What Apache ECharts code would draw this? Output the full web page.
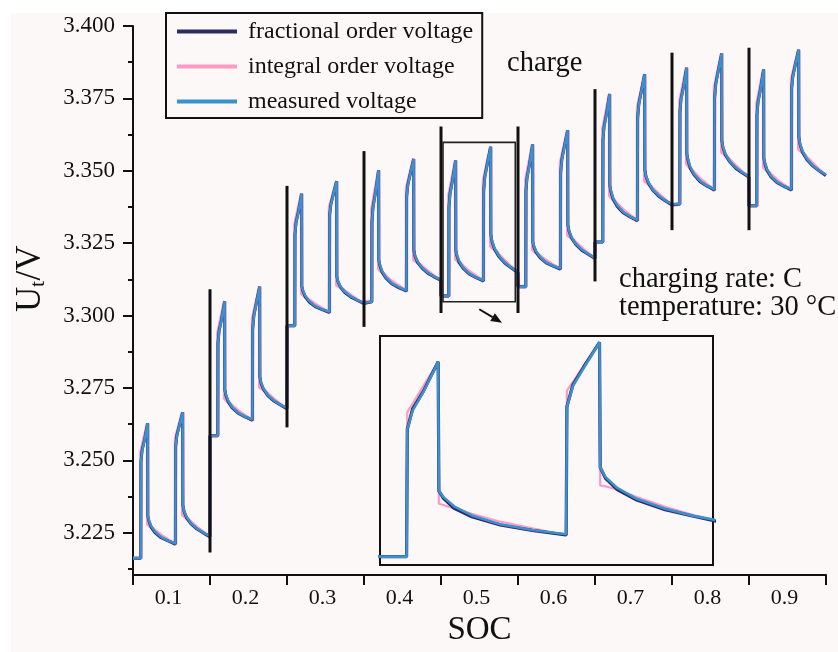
<!DOCTYPE html>
<html>
<head>
<meta charset="utf-8">
<script src="https://cdn.jsdelivr.net/npm/echarts@6/dist/echarts.min.js"></script>
<style>
  html, body { margin: 0; padding: 0; background: #ffffff; }
  #wrap { position: relative; width: 838px; height: 652px; }
  #paper { position: absolute; left: 11px; top: 13px; right: 0; bottom: 0; background: #fcf8f8; }
  #chart { position: absolute; left: 0; top: 0; width: 838px; height: 652px; }
</style>
</head>
<body>
<div id="wrap"><div id="paper"></div><div id="chart"></div></div>
<script>
// ---- data -------------------------------------------------------------
// SOC tick labels (one per charging segment)
const socLabels = ['0.1', '0.2', '0.3', '0.4', '0.5', '0.6', '0.7', '0.8', '0.9'];
// start SOC of every segment and the SOC offsets sampled within a segment
const segmentStart = [0.05, 0.15, 0.25, 0.35, 0.45, 0.55, 0.65, 0.75, 0.85];
const pulseOffset = [0, 0.0101, 0.0103, 0.0118, 0.0148, 0.0190, 0.0192, 0.0205, 0.0235, 0.0285,
  0.0365, 0.0455, 0.0551, 0.0553, 0.0570, 0.0600, 0.0645, 0.0647, 0.0662, 0.0695, 0.0750,
  0.0830, 0.0910, 0.0998];

// terminal voltage (V), one row per segment, one value per offset
const measured = [
  [3.2162,3.2162,3.2495,3.2532,3.2568,3.2628,3.2308,3.2295,3.2274,3.2254,3.2235,3.2223,3.2213,3.2546,3.2584,3.2618,3.2666,3.2346,3.2327,3.2305,3.2284,3.2265,3.2251,3.2239],
  [3.2585,3.2585,3.2903,3.2944,3.2984,3.3050,3.2744,3.2730,3.2707,3.2685,3.2665,3.2651,3.2641,3.2950,3.2998,3.3040,3.3100,3.2789,3.2770,3.2748,3.2726,3.2707,3.2693,3.2681],
  [3.2965,3.2965,3.3280,3.3319,3.3358,3.3421,3.3101,3.3089,3.3069,3.3051,3.3033,3.3022,3.3013,3.3345,3.3383,3.3416,3.3464,3.3135,3.3119,3.3100,3.3082,3.3066,3.3054,3.3044],
  [3.3048,3.3048,3.3322,3.3372,3.3421,3.3502,3.3192,3.3177,3.3154,3.3132,3.3111,3.3098,3.3087,3.3408,3.3451,3.3488,3.3541,3.3226,3.3208,3.3187,3.3167,3.3148,3.3135,3.3124],
  [3.3068,3.3068,3.3374,3.3419,3.3463,3.3536,3.3226,3.3211,3.3189,3.3167,3.3146,3.3132,3.3122,3.3428,3.3478,3.3521,3.3583,3.3282,3.3259,3.3233,3.3207,3.3183,3.3166,3.3152],
  [3.3100,3.3100,3.3430,3.3475,3.3519,3.3591,3.3255,3.3242,3.3222,3.3203,3.3184,3.3172,3.3163,3.3490,3.3538,3.3580,3.3640,3.3315,3.3294,3.3271,3.3248,3.3228,3.3213,3.3200],
  [3.3254,3.3254,3.3605,3.3650,3.3693,3.3765,3.3450,3.3433,3.3407,3.3382,3.3358,3.3342,3.3330,3.3680,3.3729,3.3772,3.3833,3.3505,3.3483,3.3459,3.3435,3.3414,3.3398,3.3385],
  [3.3385,3.3385,3.3703,3.3746,3.3787,3.3856,3.3560,3.3543,3.3515,3.3489,3.3465,3.3448,3.3436,3.3750,3.3800,3.3843,3.3905,3.3605,3.3583,3.3558,3.3533,3.3511,3.3495,3.3481],
  [3.3379,3.3379,3.3691,3.3736,3.3778,3.3850,3.3544,3.3529,3.3505,3.3482,3.3461,3.3447,3.3436,3.3782,3.3826,3.3864,3.3918,3.3618,3.3594,3.3568,3.3542,3.3518,3.3501,3.3487]
];
const integral = [
  [3.2162,3.2162,3.2528,3.2546,3.2580,3.2628,3.2280,3.2277,3.2270,3.2258,3.2241,3.2225,3.2210,3.2576,3.2593,3.2622,3.2666,3.2311,3.2309,3.2302,3.2287,3.2269,3.2252,3.2236],
  [3.2585,3.2585,3.2940,3.2959,3.2997,3.3050,3.2713,3.2710,3.2703,3.2689,3.2671,3.2654,3.2638,3.2988,3.3009,3.3045,3.3100,3.2753,3.2751,3.2745,3.2730,3.2711,3.2694,3.2678],
  [3.2965,3.2965,3.3315,3.3334,3.3370,3.3421,3.3075,3.3072,3.3066,3.3054,3.3039,3.3024,3.3010,3.3375,3.3391,3.3420,3.3464,3.3105,3.3103,3.3098,3.3085,3.3069,3.3055,3.3041],
  [3.3048,3.3048,3.3367,3.3390,3.3437,3.3502,3.3161,3.3157,3.3150,3.3136,3.3117,3.3101,3.3084,3.3441,3.3460,3.3492,3.3541,3.3192,3.3190,3.3184,3.3170,3.3153,3.3136,3.3121],
  [3.3068,3.3068,3.3415,3.3436,3.3478,3.3536,3.3195,3.3192,3.3184,3.3171,3.3152,3.3136,3.3119,3.3467,3.3488,3.3526,3.3583,3.3239,3.3237,3.3229,3.3211,3.3188,3.3168,3.3148],
  [3.3100,3.3100,3.3470,3.3491,3.3533,3.3591,3.3227,3.3225,3.3218,3.3206,3.3190,3.3175,3.3160,3.3528,3.3549,3.3585,3.3640,3.3277,3.3275,3.3268,3.3252,3.3232,3.3214,3.3197],
  [3.3254,3.3254,3.3645,3.3666,3.3707,3.3765,3.3414,3.3410,3.3402,3.3386,3.3365,3.3346,3.3326,3.3718,3.3740,3.3776,3.3833,3.3465,3.3463,3.3456,3.3439,3.3419,3.3399,3.3381],
  [3.3385,3.3385,3.3741,3.3761,3.3801,3.3856,3.3523,3.3519,3.3510,3.3494,3.3472,3.3452,3.3432,3.3789,3.3810,3.3848,3.3905,3.3564,3.3562,3.3554,3.3537,3.3516,3.3496,3.3477],
  [3.3379,3.3379,3.3731,3.3751,3.3793,3.3850,3.3512,3.3508,3.3501,3.3487,3.3467,3.3450,3.3433,3.3816,3.3835,3.3868,3.3918,3.3575,3.3572,3.3564,3.3546,3.3524,3.3503,3.3483]
];
const fractional = [
  [3.2162,3.2162,3.2495,3.2535,3.2569,3.2628,3.2308,3.2292,3.2270,3.2251,3.2233,3.2222,3.2211,3.2546,3.2587,3.2619,3.2666,3.2346,3.2325,3.2302,3.2282,3.2263,3.2250,3.2237],
  [3.2585,3.2585,3.2903,3.2947,3.2985,3.3050,3.2744,3.2726,3.2703,3.2682,3.2663,3.2650,3.2639,3.2950,3.3001,3.3042,3.3100,3.2789,3.2767,3.2745,3.2724,3.2705,3.2692,3.2679],
  [3.2965,3.2965,3.3280,3.3322,3.3359,3.3421,3.3101,3.3086,3.3066,3.3048,3.3031,3.3021,3.3011,3.3345,3.3385,3.3418,3.3464,3.3135,3.3117,3.3098,3.3080,3.3064,3.3053,3.3042],
  [3.3048,3.3048,3.3322,3.3376,3.3423,3.3502,3.3192,3.3174,3.3150,3.3129,3.3109,3.3096,3.3085,3.3408,3.3453,3.3489,3.3541,3.3226,3.3206,3.3184,3.3165,3.3146,3.3134,3.3122],
  [3.3068,3.3068,3.3374,3.3423,3.3465,3.3536,3.3226,3.3208,3.3184,3.3164,3.3144,3.3131,3.3120,3.3428,3.3481,3.3523,3.3583,3.3282,3.3256,3.3229,3.3204,3.3181,3.3165,3.3149],
  [3.3100,3.3100,3.3430,3.3478,3.3520,3.3591,3.3255,3.3239,3.3218,3.3200,3.3182,3.3171,3.3161,3.3490,3.3541,3.3582,3.3640,3.3315,3.3292,3.3268,3.3246,3.3225,3.3212,3.3198],
  [3.3254,3.3254,3.3605,3.3653,3.3695,3.3765,3.3450,3.3430,3.3402,3.3378,3.3355,3.3341,3.3328,3.3680,3.3732,3.3773,3.3833,3.3505,3.3481,3.3456,3.3433,3.3411,3.3397,3.3383],
  [3.3385,3.3385,3.3703,3.3749,3.3789,3.3856,3.3560,3.3539,3.3510,3.3486,3.3462,3.3447,3.3434,3.3750,3.3803,3.3845,3.3905,3.3605,3.3580,3.3554,3.3531,3.3508,3.3493,3.3479],
  [3.3379,3.3379,3.3691,3.3739,3.3780,3.3850,3.3544,3.3526,3.3501,3.3479,3.3459,3.3446,3.3434,3.3782,3.3828,3.3865,3.3918,3.3618,3.3592,3.3564,3.3539,3.3516,3.3500,3.3484]
];

// voltage axis ticks
const yTicks = [3.225, 3.250, 3.275, 3.300, 3.325, 3.350, 3.375, 3.400];
const yMinorTicks = [3.2125, 3.2375, 3.2625, 3.2875, 3.3125, 3.3375, 3.3625, 3.3875];

// vertical separators between segments: SOC, lower and upper voltage
const dividerSoc = [0.15, 0.25, 0.35, 0.45, 0.55, 0.65, 0.75, 0.85];
const dividerLow = [3.2182, 3.2614, 3.2961, 3.3009, 3.3009, 3.3118, 3.3295, 3.3295];
const dividerHigh = [3.3091, 3.3448, 3.3568, 3.3653, 3.3653, 3.3782, 3.3908, 3.3925];

// magnified window (SOC range, voltage range) and the arrow pointing to the inset
const zoomSoc = [0.4526, 0.5465];
const zoomVolt = [3.3048, 3.3598];
const arrowFrom = [0.4997, 3.3022];
const arrowTo = [0.5292, 3.2975];

// ---- chart ------------------------------------------------------------
const SERIF = '"Liberation Serif", "Times New Roman", serif';
const INK = '#111111';
const COLORS = { fractional: '#2d2b66', integral: '#ff9ac4', measured: '#3b90ce' };
const NAMES = {
  fractional: 'fractional order voltage',
  integral: 'integral order voltage',
  measured: 'measured voltage'
};

function toPoints(rows) {
  const pts = [];
  rows.forEach((row, k) => {
    row.forEach((v, i) => {
      pts.push([+(segmentStart[k] + pulseOffset[i]).toFixed(4), v]);
    });
  });
  return pts;
}

const curves = [
  { key: 'integral', rows: integral, w: 3.6, wi: 2.2, z: 2 },
  { key: 'fractional', rows: fractional, w: 3.0, wi: 3.2, z: 3 },
  { key: 'measured', rows: measured, w: 2.5, wi: 2.6, z: 4 }
];

const series = [];
curves.forEach(c => {
  const pts = toPoints(c.rows);
  series.push({
    name: NAMES[c.key], type: 'line', xAxisIndex: 1, yAxisIndex: 0,
    data: pts, showSymbol: false, symbol: 'none', clip: true, z: c.z,
    color: COLORS[c.key], lineStyle: { color: COLORS[c.key], width: c.w }
  });
  series.push({
    name: NAMES[c.key], type: 'line', xAxisIndex: 2, yAxisIndex: 2,
    data: pts, showSymbol: false, symbol: 'none', clip: true, z: c.z,
    color: COLORS[c.key], lineStyle: { color: COLORS[c.key], width: c.wi }
  });
});

// segment separators
series.push({
  type: 'custom', xAxisIndex: 1, yAxisIndex: 0, z: 6, silent: true,
  data: dividerSoc.map((x, i) => [x, dividerLow[i], dividerHigh[i]]),
  encode: { x: 0, y: [1, 2] },
  renderItem: (params, api) => {
    const a = api.coord([api.value(0), api.value(1)]);
    const b = api.coord([api.value(0), api.value(2)]);
    return { type: 'line', shape: { x1: a[0], y1: a[1], x2: b[0], y2: b[1] },
      style: { stroke: INK, lineWidth: 3 } };
  }
});

// magnified window frame and arrow
series.push({
  type: 'custom', xAxisIndex: 1, yAxisIndex: 0, z: 7, silent: true,
  data: [[zoomSoc[0], zoomVolt[1], zoomSoc[1], zoomVolt[0]]],
  encode: { x: [0, 2], y: [1, 3] },
  renderItem: (params, api) => {
    const p0 = api.coord([api.value(0), api.value(1)]);
    const p1 = api.coord([api.value(2), api.value(3)]);
    return { type: 'rect', shape: { x: p0[0], y: p0[1], width: p1[0] - p0[0], height: p1[1] - p0[1] },
      style: { fill: 'none', stroke: '#222', lineWidth: 1.6 } };
  }
});
series.push({
  type: 'custom', xAxisIndex: 1, yAxisIndex: 0, z: 7, silent: true,
  data: [[arrowFrom[0], arrowFrom[1], arrowTo[0], arrowTo[1]]],
  encode: { x: [0, 2], y: [1, 3] },
  renderItem: (params, api) => {
    const a = api.coord([api.value(0), api.value(1)]);
    const b = api.coord([api.value(2), api.value(3)]);
    const ang = Math.atan2(b[1] - a[1], b[0] - a[0]);
    const len = 11, half = 4.5;
    const bx = b[0] - len * Math.cos(ang), by = b[1] - len * Math.sin(ang);
    const nx = -Math.sin(ang) * half, ny = Math.cos(ang) * half;
    return { type: 'group', children: [
      { type: 'line', shape: { x1: a[0], y1: a[1], x2: bx, y2: by }, style: { stroke: INK, lineWidth: 2 } },
      { type: 'polygon', shape: { points: [[b[0], b[1]], [bx + nx, by + ny], [bx - nx, by - ny]] }, style: { fill: INK } }
    ] };
  }
});

const option = {
  backgroundColor: 'transparent',
  animation: false,
  grid: [
    { left: 133, top: 26, right: 12, bottom: 69 },
    { left: 380, top: 336, width: 333, height: 229, show: true,
      borderColor: INK, borderWidth: 2, backgroundColor: 'transparent' }
  ],
  legend: {
    orient: 'vertical', left: 166, top: 13,
    icon: 'rect', itemWidth: 60, itemHeight: 4, itemGap: 10,
    padding: [6, 9, 4, 11],
    borderColor: INK, borderWidth: 2, backgroundColor: '#fcf8f8',
    textStyle: { fontFamily: SERIF, fontSize: 24, color: INK, lineHeight: 25, padding: [0, 0, 0, 6] },
    data: [NAMES.fractional, NAMES.integral, NAMES.measured]
  },
  xAxis: [
    { gridIndex: 0, type: 'category', data: socLabels, boundaryGap: true,
      axisLine: { lineStyle: { color: INK, width: 2 } },
      axisTick: { show: true, length: 10, interval: 0, lineStyle: { color: INK, width: 2 } },
      axisLabel: { color: INK, fontFamily: SERIF, fontSize: 22, margin: 12, interval: 0, padding: [0, 6, 0, 0] },
      splitLine: { show: false },
      name: 'SOC', nameLocation: 'middle', nameGap: 38,
      nameTextStyle: { fontFamily: SERIF, fontSize: 33, color: INK } },
    { gridIndex: 0, type: 'value', min: 0.05, max: 0.95, show: false },
    { gridIndex: 1, type: 'value', min: zoomSoc[0], max: zoomSoc[1], show: false }
  ],
  yAxis: [
    { gridIndex: 0, type: 'value', min: 3.2104, max: 3.4, position: 'left',
      axisLine: { show: true, lineStyle: { color: INK, width: 2 } },
      axisTick: { show: true, length: 10, customValues: yTicks, lineStyle: { color: INK, width: 2 } },
      axisLabel: { customValues: yTicks, formatter: v => v.toFixed(3),
        color: INK, fontFamily: SERIF, fontSize: 23, margin: 18 },
      splitLine: { show: false } },
    { gridIndex: 0, type: 'value', min: 3.2104, max: 3.4, position: 'left', offset: 0,
      axisLine: { show: false },
      axisTick: { show: true, length: 5, customValues: yMinorTicks, lineStyle: { color: INK, width: 2 } },
      axisLabel: { show: false }, splitLine: { show: false } },
    { gridIndex: 1, type: 'value', min: zoomVolt[0], max: zoomVolt[1], show: false }
  ],
  graphic: [
    { type: 'text', x: 507, y: 64, style: { text: 'charge', fontFamily: SERIF, fontSize: 28.5, fill: INK, align: 'left', verticalAlign: 'middle' } },
    { type: 'text', x: 619, y: 280, style: { text: 'charging rate: C', fontFamily: SERIF, fontSize: 28.5, fill: INK, align: 'left', verticalAlign: 'middle' } },
    { type: 'text', x: 619, y: 308, style: { text: 'temperature: 30 \u00b0C', fontFamily: SERIF, fontSize: 28.5, fill: INK, align: 'left', verticalAlign: 'middle' } },
    { type: 'group', x: 31, y: 312, rotation: Math.PI / 2, children: [
      { type: 'text', x: 0, y: 0, style: { text: 'U', fontFamily: SERIF, fontSize: 35, fill: INK, align: 'left', verticalAlign: 'middle' } },
      { type: 'text', x: 25, y: 7, style: { text: 't', fontFamily: SERIF, fontSize: 22, fill: INK, align: 'left', verticalAlign: 'middle' } },
      { type: 'text', x: 31.5, y: 0, style: { text: '/V', fontFamily: SERIF, fontSize: 35, fill: INK, align: 'left', verticalAlign: 'middle' } }
    ] }
  ],
  series: series
};

const chart = echarts.init(document.getElementById('chart'), null, { renderer: 'canvas' });
chart.setOption(option);
</script>
</body>
</html>
